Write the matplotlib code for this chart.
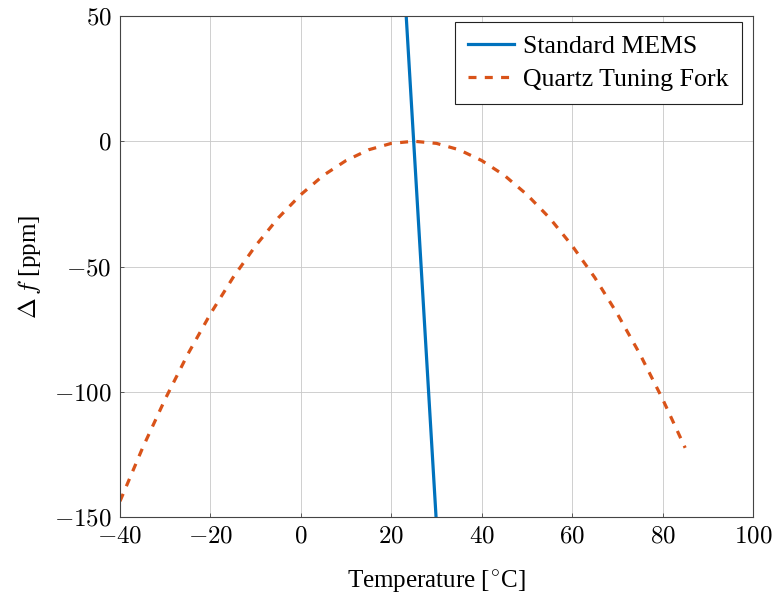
import numpy as np
import matplotlib.pyplot as plt
from matplotlib.ticker import FuncFormatter

plt.rcParams['font.family'] = ['Liberation Serif', 'DejaVu Serif']
plt.rcParams['mathtext.fontset'] = 'cm'

# --- DATA ---
mems_temp = [23.3, 29.9]
mems_df = [50, -150]

quartz_temp = [-40, -35, -30, -25, -20, -15, -10, -5, 0, 5, 10, 15, 20, 25,
               30, 35, 40, 45, 50, 55, 60, 65, 70, 75, 80, 85]
quartz_df = [-143.7, -122.4, -102.9, -85.0, -68.9, -54.4, -41.7, -30.6, -21.3,
             -13.6, -7.7, -3.4, -0.85, 0.0, -0.85, -3.4, -7.7, -13.6, -21.3,
             -30.6, -41.7, -54.4, -68.9, -85.0, -102.9, -122.4]

x_ticks = [-40, -20, 0, 20, 40, 60, 80, 100]
y_ticks = [-150, -100, -50, 0, 50]

FS = 18

# --- PLOT ---
fig = plt.figure(figsize=(7.75, 5.94), dpi=100)
ax = fig.add_axes([120 / 775, 1 - 517 / 594, 633 / 775, 501 / 594])

ax.plot(mems_temp, mems_df, color='#0072BD', lw=2.3, label='Standard MEMS')
ax.plot(quartz_temp, quartz_df, color='#D95319', lw=2.3, ls=(0, (2.5, 2.6)),
        dash_capstyle='butt', label='Quartz Tuning Fork')

ax.set_xlim(-40, 100)
ax.set_ylim(-150, 50)
ax.set_xticks(x_ticks)
ax.set_yticks(y_ticks)
fmt = FuncFormatter(lambda v, p: r'$%d$' % v)
ax.xaxis.set_major_formatter(fmt)
ax.yaxis.set_major_formatter(fmt)
ax.tick_params(direction='in', length=3, width=0.6, labelsize=FS, pad=6,
               color='#444444')
ax.grid(True, color='#c8c8c8', lw=0.6)
ax.set_axisbelow(True)
for s in ax.spines.values():
    s.set_color('#444444')
    s.set_linewidth(0.8)

ax.set_xlabel(r'Temperature [$^{\circ}$C]', fontsize=FS, labelpad=15)
ax.set_ylabel(r'$\Delta\,f$ [ppm]', fontsize=FS, labelpad=8)

leg = ax.legend(loc='upper right', fontsize=18.6, frameon=True, fancybox=False,
                edgecolor='#222222', framealpha=1, handlelength=1.8,
                borderpad=0.5, labelspacing=0.38, handletextpad=0.36,
                borderaxespad=0, bbox_to_anchor=(742 / 775, 1 - 22 / 594),
                bbox_transform=fig.transFigure)
leg.get_frame().set_linewidth(0.8)

fig.savefig('out.png', dpi=100)
